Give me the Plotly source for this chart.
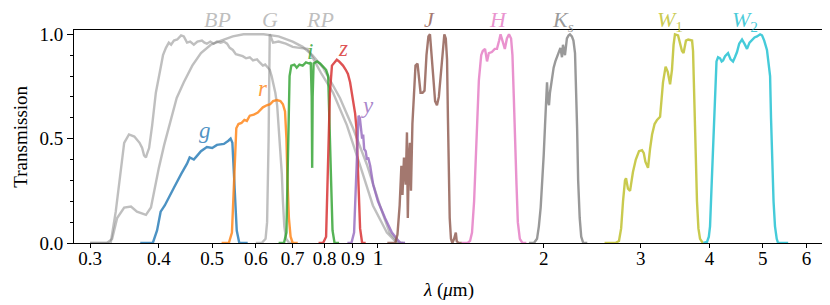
import math
import plotly.graph_objects as go

# ---------------- data (wavelength in micron, transmission) ----------------
bp_wl = [0.300, 0.318, 0.327, 0.334, 0.341, 0.346, 0.353, 0.361, 0.369, 0.373, 0.376, 0.379, 0.381, 0.384,
         0.389, 0.395, 0.403, 0.407, 0.412, 0.417, 0.421, 0.426, 0.432, 0.439, 0.444, 0.450, 0.456, 0.463,
         0.470, 0.479, 0.484, 0.489, 0.496, 0.503, 0.510, 0.518, 0.525, 0.532, 0.538, 0.545, 0.552, 0.561,
         0.568, 0.576, 0.585, 0.593, 0.603, 0.610, 0.618, 0.624, 0.629, 0.636, 0.641, 0.646, 0.651, 0.656,
         0.661, 0.665, 0.669, 0.672, 0.676, 0.681, 0.690, 0.700]
bp_t = [0.0, 0.0, 0.0, 0.15, 0.36, 0.48, 0.52, 0.51, 0.48, 0.455, 0.42, 0.41, 0.43, 0.455,
        0.565, 0.72, 0.84, 0.90, 0.935, 0.96, 0.95, 0.97, 0.975, 0.995, 0.99, 0.96, 0.965, 0.95,
        0.965, 0.97, 0.96, 0.955, 0.965, 0.955, 0.965, 0.96, 0.965, 0.955, 0.935, 0.925, 0.905, 0.90,
        0.895, 0.885, 0.89, 0.875, 0.88, 0.865, 0.85, 0.855, 0.845, 0.83, 0.80, 0.76, 0.72, 0.66,
        0.55, 0.45, 0.33, 0.20, 0.08, 0.02, 0.0, 0.0]

g_gaia_wl = [0.300, 0.322, 0.329, 0.336, 0.346, 0.356, 0.365, 0.379, 0.387, 0.392, 0.400, 0.409, 0.421,
             0.431, 0.444, 0.460, 0.477, 0.497, 0.519, 0.545, 0.570, 0.620, 0.660, 0.700, 0.730, 0.760,
             0.795, 0.853, 0.901, 0.955, 1.008, 1.050, 1.090, 1.120]
g_gaia_t = [0.0, 0.0, 0.02, 0.12, 0.17, 0.175, 0.15, 0.135, 0.17, 0.245, 0.36, 0.47, 0.60,
            0.695, 0.77, 0.85, 0.91, 0.95, 0.97, 0.99, 1.0, 1.0, 0.99, 0.965, 0.94, 0.90,
            0.84, 0.695, 0.55, 0.375, 0.18, 0.05, 0.0, 0.0]

rp_wl = [0.600, 0.615, 0.625, 0.629, 0.633, 0.636, 0.645, 0.660, 0.680, 0.700, 0.720, 0.745, 0.762,
         0.790, 0.829, 0.878, 0.927, 0.979, 1.038, 1.083, 1.110]
rp_t = [0.0, 0.0, 0.02, 0.10, 0.50, 1.0, 0.96, 0.965, 0.955, 0.94, 0.935, 0.93, 0.886,
        0.81, 0.72, 0.565, 0.375, 0.18, 0.05, 0.0, 0.0]

g_wl = [0.370, 0.390, 0.397, 0.403, 0.410, 0.414, 0.426, 0.439, 0.450, 0.455, 0.463, 0.470, 0.477,
        0.489, 0.500, 0.510, 0.525, 0.535, 0.540, 0.544, 0.547, 0.550, 0.554, 0.560, 0.580]
g_t = [0.0, 0.0, 0.06, 0.15, 0.18, 0.20, 0.265, 0.33, 0.38, 0.41, 0.40, 0.42, 0.44,
       0.46, 0.455, 0.47, 0.475, 0.49, 0.50, 0.48, 0.35, 0.20, 0.06, 0.0, 0.0]

r_wl = [0.520, 0.536, 0.543, 0.546, 0.549, 0.553, 0.558, 0.565, 0.572, 0.578, 0.585, 0.595, 0.605,
        0.618, 0.628, 0.637, 0.645, 0.655, 0.665, 0.672, 0.678, 0.682, 0.685, 0.689, 0.694, 0.700, 0.715]
r_t = [0.0, 0.0, 0.05, 0.20, 0.42, 0.55, 0.57, 0.575, 0.59, 0.585, 0.61, 0.615, 0.625,
       0.65, 0.66, 0.665, 0.68, 0.685, 0.68, 0.665, 0.63, 0.50, 0.30, 0.12, 0.03, 0.0, 0.0]

i_wl = [0.660, 0.675, 0.682, 0.687, 0.691, 0.696, 0.705, 0.712, 0.720, 0.730, 0.740, 0.750, 0.755,
        0.758, 0.7595, 0.761, 0.764, 0.775, 0.785, 0.795, 0.805, 0.812, 0.817, 0.822, 0.827, 0.834, 0.850]
i_t = [0.0, 0.0, 0.05, 0.40, 0.80, 0.85, 0.855, 0.84, 0.855, 0.85, 0.865, 0.86, 0.865,
       0.70, 0.36, 0.70, 0.86, 0.87, 0.86, 0.845, 0.83, 0.80, 0.60, 0.30, 0.06, 0.0, 0.0]

z_wl = [0.780, 0.795, 0.805, 0.812, 0.818, 0.825, 0.835, 0.842, 0.850, 0.864, 0.874, 0.882, 0.890,
        0.897, 0.901, 0.905, 0.909, 0.914, 0.918, 0.923, 0.928, 0.936, 0.950]
z_t = [0.0, 0.0, 0.03, 0.40, 0.72, 0.85, 0.87, 0.878, 0.87, 0.85, 0.83, 0.81, 0.77,
       0.72, 0.68, 0.66, 0.62, 0.55, 0.40, 0.20, 0.07, 0.0, 0.0]

y_wl = [0.880, 0.895, 0.905, 0.912, 0.917, 0.922, 0.927, 0.932, 0.936, 0.940, 0.944, 0.950, 0.955,
        0.960, 0.968, 0.980, 1.000, 1.030, 1.060, 1.090, 1.100, 1.120]
y_t = [0.0, 0.0, 0.05, 0.30, 0.50, 0.61, 0.60, 0.55, 0.50, 0.52, 0.45, 0.44, 0.40,
       0.41, 0.37, 0.28, 0.20, 0.12, 0.05, 0.01, 0.0, 0.0]

j_wl = [1.040, 1.075, 1.085, 1.095, 1.103, 1.108, 1.115, 1.123, 1.129, 1.133, 1.138, 1.143, 1.148,
        1.155, 1.162, 1.170, 1.180, 1.187, 1.195, 1.205, 1.215, 1.225, 1.235, 1.243, 1.250, 1.260,
        1.270, 1.280, 1.290, 1.300, 1.310, 1.320, 1.328, 1.335, 1.340, 1.345, 1.350, 1.357, 1.365,
        1.375, 1.385, 1.390, 1.400, 1.420]
j_t = [0.0, 0.0, 0.04, 0.18, 0.37, 0.23, 0.41, 0.28, 0.53, 0.12, 0.40, 0.48, 0.25,
       0.57, 0.70, 0.85, 0.86, 0.80, 0.72, 0.72, 0.73, 0.90, 0.99, 1.0, 0.93, 0.80,
       0.68, 0.66, 0.70, 0.80, 0.92, 1.0, 0.98, 0.88, 0.60, 0.35, 0.12, 0.02, 0.0,
       0.02, 0.05, 0.01, 0.0, 0.0]

h_wl = [1.420, 1.455, 1.470, 1.482, 1.495, 1.510, 1.525, 1.540, 1.550, 1.565, 1.578, 1.590, 1.610,
        1.630, 1.645, 1.660, 1.670, 1.687, 1.700, 1.715, 1.730, 1.745, 1.755, 1.765, 1.775, 1.785,
        1.795, 1.810, 1.830, 1.860]
h_t = [0.0, 0.0, 0.01, 0.05, 0.20, 0.50, 0.78, 0.90, 0.92, 0.93, 0.87, 0.91, 0.915,
       0.93, 0.93, 0.97, 1.0, 0.96, 0.93, 0.98, 1.0, 0.98, 0.90, 0.70, 0.45, 0.28,
       0.10, 0.02, 0.0, 0.0]

ks_wl = [1.880, 1.920, 1.945, 1.960, 1.975, 1.990, 2.000, 2.011, 2.028, 2.036, 2.045, 2.053, 2.071,
         2.085, 2.100, 2.114, 2.130, 2.145, 2.159, 2.168, 2.186, 2.204, 2.220, 2.232, 2.250, 2.265,
         2.280, 2.290, 2.300, 2.310, 2.325, 2.340, 2.360, 2.400]
ks_t = [0.0, 0.0, 0.02, 0.08, 0.17, 0.30, 0.42, 0.56, 0.77, 0.68, 0.66, 0.72, 0.80,
        0.84, 0.87, 0.89, 0.92, 0.935, 0.89, 0.95, 0.90, 0.98, 0.995, 1.0, 0.99, 0.97,
        0.91, 0.75, 0.55, 0.30, 0.12, 0.03, 0.0, 0.0]

w1_wl = [2.580, 2.700, 2.740, 2.765, 2.787, 2.810, 2.822, 2.845, 2.870, 2.905, 2.940, 2.980, 3.017,
         3.040, 3.060, 3.094, 3.120, 3.147, 3.180, 3.213, 3.254, 3.294, 3.330, 3.360, 3.393, 3.420,
         3.443, 3.463, 3.508, 3.540, 3.566, 3.590, 3.626, 3.660, 3.720, 3.735, 3.750, 3.766, 3.780,
         3.797, 3.820, 3.846, 3.890]
w1_t = [0.0, 0.0, 0.01, 0.07, 0.20, 0.30, 0.31, 0.26, 0.25, 0.34, 0.40, 0.44, 0.445,
        0.43, 0.39, 0.36, 0.45, 0.52, 0.57, 0.59, 0.605, 0.77, 0.845, 0.82, 0.76, 0.83,
        0.95, 1.0, 0.995, 0.96, 0.92, 0.91, 0.97, 0.975, 0.97, 0.92, 0.75, 0.55, 0.35,
        0.20, 0.07, 0.02, 0.0]

w2_wl = [3.900, 3.960, 3.990, 4.010, 4.040, 4.061, 4.080, 4.095, 4.120, 4.147, 4.182, 4.210, 4.235,
         4.270, 4.300, 4.324, 4.370, 4.415, 4.450, 4.489, 4.530, 4.584, 4.630, 4.681, 4.730, 4.780,
         4.830, 4.881, 4.944, 4.984, 5.030, 5.088, 5.120, 5.155, 5.175, 5.196, 5.230, 5.262, 5.300,
         5.330, 5.560]
w2_t = [0.0, 0.005, 0.03, 0.08, 0.30, 0.45, 0.65, 0.78, 0.87, 0.89, 0.885, 0.87, 0.875,
        0.895, 0.905, 0.91, 0.88, 0.87, 0.89, 0.915, 0.955, 0.975, 0.955, 0.93, 0.96, 0.975,
        0.985, 0.99, 1.0, 0.995, 0.97, 0.925, 0.86, 0.80, 0.60, 0.41, 0.20, 0.08, 0.02,
        0.0, 0.0]

x_tick_vals = [0.3, 0.4, 0.5, 0.6, 0.7, 0.8, 0.9, 1, 2, 3, 4, 5, 6]
x_tick_text = ["0.3", "0.4", "0.5", "0.6", "0.7", "0.8", "0.9",
               "<span style='font-size:22px'>1</span>", "2", "3", "4", "5", "6"]
y_tick_vals = [0.0, 0.5, 1.0]
y_tick_text = ["0.0", "0.5", "1.0"]

# labels above the axes (Gaia + 2MASS + WISE) and inside (PS1)
top_label_text = ["<i>BP</i>", "<i>G</i>", "<i>RP</i>", "<i>J</i>", "<i>H</i>",
                  "<i>K<sub>s</sub></i>", "<i>W</i><sub>1</sub>", "<i>W</i><sub>2</sub>"]
top_label_wl = [0.512, 0.636, 0.784, 1.243, 1.652, 2.168, 3.393, 4.64]
top_label_t = [1.07, 1.07, 1.07, 1.07, 1.07, 1.066, 1.066, 1.066]
top_label_key = ["gaia", "gaia", "gaia", "J", "H", "Ks", "W1", "W2"]

in_label_text = ["<i>g</i>", "<i>r</i>", "<i>i</i>", "<i>z</i>", "<i>y</i>"]
in_label_wl = [0.485, 0.618, 0.753, 0.864, 0.959]
in_label_t = [0.54, 0.74, 0.92, 0.93, 0.66]
in_label_key = ["g", "r", "i", "z", "y"]

colors = {
    "gaia": "rgba(128,128,128,0.5)",
    "g": "rgba(31,119,180,0.8)",
    "r": "rgba(255,127,14,0.8)",
    "i": "rgba(44,160,44,0.8)",
    "z": "rgba(214,39,40,0.8)",
    "y": "rgba(148,103,189,0.8)",
    "J": "rgba(140,86,75,0.8)",
    "H": "rgba(227,119,194,0.8)",
    "Ks": "rgba(127,127,127,0.8)",
    "W1": "rgba(188,189,34,0.8)",
    "W2": "rgba(23,190,207,0.8)",
}

series = [
    ("gaia", g_gaia_wl, g_gaia_t),
    ("gaia", bp_wl, bp_t),
    ("gaia", rp_wl, rp_t),
    ("g", g_wl, g_t),
    ("r", r_wl, r_t),
    ("i", i_wl, i_t),
    ("z", z_wl, z_t),
    ("y", y_wl, y_t),
    ("J", j_wl, j_t),
    ("H", h_wl, h_t),
    ("Ks", ks_wl, ks_t),
    ("W1", w1_wl, w1_t),
    ("W2", w2_wl, w2_t),
]

FONT = "Liberation Serif"
Y_MAX = 1.0206

fig = go.Figure()
for key, wl, t in series:
    fig.add_trace(go.Scatter(x=wl, y=t, mode="lines",
                             line=dict(color=colors[key], width=2.4),
                             showlegend=False, hoverinfo="skip"))

annotations = []
for txt, wl, t, key in zip(top_label_text, top_label_wl, top_label_t, top_label_key):
    annotations.append(dict(x=math.log10(wl), y=t / Y_MAX, xref="x", yref="paper", text=txt,
                            showarrow=False, xanchor="center", yanchor="middle",
                            font=dict(family=FONT, size=22, color=colors[key])))
for txt, wl, t, key in zip(in_label_text, in_label_wl, in_label_t, in_label_key):
    annotations.append(dict(x=math.log10(wl), y=t, xref="x", yref="y", text=txt,
                            showarrow=False, xanchor="center", yanchor="middle",
                            font=dict(family=FONT, size=23, color=colors[key])))
annotations.append(dict(x=0.5, y=-0.22, xref="paper", yref="paper",
                        text="<i>λ</i> (<i>μ</i>m)", showarrow=False,
                        xanchor="center", yanchor="middle",
                        font=dict(family=FONT, size=19, color="black")))
annotations.append(dict(x=-0.072, y=0.5, xref="paper", yref="paper",
                        text="Transmission", showarrow=False, textangle=-90,
                        xanchor="center", yanchor="middle",
                        font=dict(family=FONT, size=19, color="black")))

# page body adds an 8px offset; figure is sized to fit the remaining window
fig.update_layout(
    width=822, height=297,
    margin=dict(l=66, r=8, t=22, b=62, autoexpand=False),
    paper_bgcolor="white", plot_bgcolor="white",
    font=dict(family=FONT, size=19, color="black"),
    annotations=annotations,
    xaxis=dict(type="log", range=[math.log10(0.2805), math.log10(6.405)],
               tickmode="array", tickvals=x_tick_vals, ticktext=x_tick_text,
               ticks="outside", ticklen=4, tickwidth=1, tickcolor="black",
               ticklabelstandoff=-6,
               showline=True, linecolor="black", linewidth=1, mirror=True,
               showgrid=False, zeroline=False, automargin=False,
               tickfont=dict(family=FONT, size=19, color="black")),
    yaxis=dict(range=[0, Y_MAX], tickmode="array", tickvals=y_tick_vals, ticktext=y_tick_text,
               ticks="outside", ticklen=6, tickwidth=1, tickcolor="black",
               minor=dict(dtick=0.1, ticks="outside", ticklen=3.5, tickcolor="black", showgrid=False),
               showline=True, linecolor="black", linewidth=1, mirror=True,
               showgrid=False, zeroline=False, automargin=False,
               tickfont=dict(family=FONT, size=19, color="black")),
)

fig.write_html("out.html")
